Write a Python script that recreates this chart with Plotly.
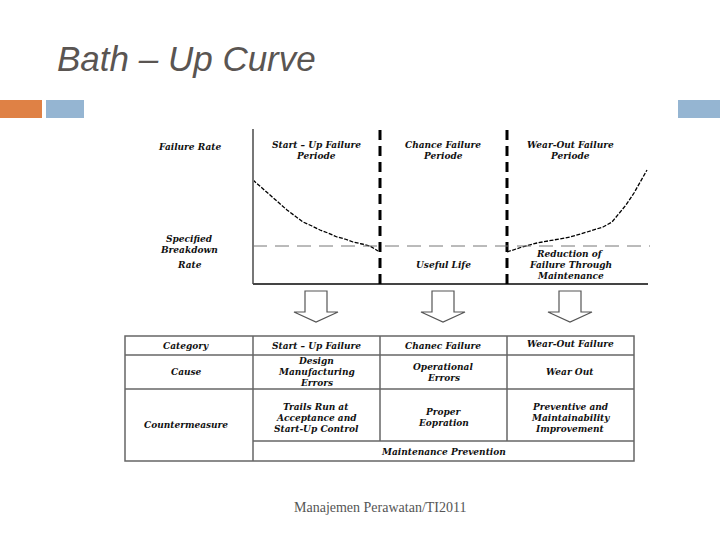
import plotly.graph_objects as go

# ---------------- data (diagram coordinates: x = time position, y = rate position) -------------
early_t = [253, 262, 270, 279, 287, 295, 303, 312, 320, 328, 337, 345, 353, 362, 370, 378]
early_rate = [180, 188, 195, 203, 210, 216, 222, 226, 230, 233, 237, 239, 242, 244, 246, 251]
wear_t = [507, 522, 537, 553, 570, 587, 603, 612, 618, 626, 634, 641, 647]
wear_rate = [252, 247, 243, 240, 237, 232, 227, 222, 215, 205, 193, 181, 170]

period_bounds = [253, 380, 507, 648]
breakdown_level = 246
period_titles = ["Start – Up Failure<br>Periode", "Chance Failure<br>Periode", "Wear-Out Failure<br>Periode"]

table_cols = [125, 253, 380, 507, 634]
table_rows = [336, 355, 389, 441, 461]
row_heads = ["Category", "Cause", "Countermeasure"]
categories = ["Start – Up Failure", "Chanec Failure", "Wear-Out Failure"]
causes = ["Design<br>Manufacturing<br>Errors", "Operational<br>Errors", "Wear Out"]
countermeasures = ["Trails Run at<br>Acceptance and<br>Start-Up Control", "Proper<br>Eopration",
                   "Preventive and<br>Maintainability<br>Improvement"]
bottom_row = "Maintenance Prevention"

col_centers = [316, 443, 570]

fig = go.Figure()

LINE = dict(color="black", width=1.3, dash="4px,1.5px")
fig.add_trace(go.Scatter(x=early_t, y=early_rate, mode="lines", line=LINE, hoverinfo="skip"))
fig.add_trace(go.Scatter(x=wear_t, y=wear_rate, mode="lines", line=LINE, hoverinfo="skip"))

shapes = []
shapes.append(dict(type="rect", x0=0, x1=42, y0=100, y1=118, fillcolor="#DF8145", line_width=0))
shapes.append(dict(type="rect", x0=46, x1=84, y0=100, y1=118, fillcolor="#95B5D2", line_width=0))
shapes.append(dict(type="rect", x0=678, x1=720, y0=100, y1=118, fillcolor="#95B5D2", line_width=0))

shapes.append(dict(type="line", x0=253, x1=253, y0=129, y1=284, line=dict(color="#777777", width=2)))
shapes.append(dict(type="line", x0=253, x1=648, y0=284, y1=284, line=dict(color="#444444", width=2)))
for xb in period_bounds[1:3]:
    shapes.append(dict(type="line", x0=xb, x1=xb, y0=130, y1=284,
                       line=dict(color="black", width=3, dash="10px,6px")))
shapes.append(dict(type="line", x0=253, x1=650, y0=breakdown_level, y1=breakdown_level,
                   line=dict(color="#777777", width=1, dash="14px,8px")))

for cx in col_centers:
    path = (f"M {cx-11},291 L {cx+11},291 L {cx+11},312 L {cx+22},312 L {cx},322 "
            f"L {cx-22},312 L {cx-11},312 Z")
    shapes.append(dict(type="path", path=path, fillcolor="white", line=dict(color="#555555", width=1.2)))

TL = dict(color="#666666", width=1.5)
shapes.append(dict(type="rect", x0=table_cols[0], x1=table_cols[-1], y0=table_rows[0], y1=table_rows[-1],
                   line=TL))
for xc in table_cols[1:-1]:
    y_end = table_rows[3] if xc != table_cols[1] else table_rows[-1]
    shapes.append(dict(type="line", x0=xc, x1=xc, y0=table_rows[0], y1=y_end, line=TL))
shapes.append(dict(type="line", x0=table_cols[0], x1=table_cols[-1], y0=table_rows[1], y1=table_rows[1], line=TL))
shapes.append(dict(type="line", x0=table_cols[0], x1=table_cols[-1], y0=table_rows[2], y1=table_rows[2], line=TL))
shapes.append(dict(type="line", x0=table_cols[1], x1=table_cols[-1], y0=table_rows[3], y1=table_rows[3], line=TL))

ann = []
SF = dict(family="DejaVu Serif, serif", size=9, color="#111111")


def lab(x, y_first, t, step=11):
    for k, line in enumerate(t.split("<br>")):
        ann.append(dict(x=x, y=y_first + k * step, text=f"<b><i>{line}</i></b>", showarrow=False, font=SF,
                        xanchor="center", yanchor="middle", align="center"))


lab(189, 147, "Failure Rate")
for i, t in enumerate(period_titles):
    lab(col_centers[i], 145, t)
lab(189, 239, "Specified<br>Breakdown")
lab(189, 265, "Rate")
lab(443, 265, "Useful Life")
lab(570, 254, "Reduction of<br>Failure Through<br>Maintenance")

lab(186, 346, row_heads[0])
lab(186, 372, row_heads[1])
lab(186, 425, row_heads[2])
cause_y = [361.4, 367, 372]
counter_y = [407, 412, 407]
for i in range(3):
    cx = col_centers[i]
    lab(cx, 346 if i < 2 else 344, categories[i])
    lab(cx, cause_y[i], causes[i], step=10.6)
    lab(cx, counter_y[i], countermeasures[i], step=11)
lab(443, 452, bottom_row)

ann.append(dict(x=55, y=58, text="<i>Bath – Up Curve</i>", showarrow=False, xanchor="left", yanchor="middle",
                font=dict(family="Liberation Sans, Arial, sans-serif", size=35, color="#5A5552")))
ann.append(dict(x=380, y=507, text="Manajemen Perawatan/TI2011", showarrow=False, xanchor="center",
                yanchor="middle", font=dict(family="Liberation Serif, Times New Roman, serif", size=14,
                                            color="#555555")))

fig.update_layout(
    width=720, height=540, margin=dict(l=0, r=0, t=0, b=0),
    paper_bgcolor="white", plot_bgcolor="white", showlegend=False,
    xaxis=dict(range=[0, 720], visible=False, fixedrange=True),
    yaxis=dict(range=[540, 0], visible=False, fixedrange=True),
    shapes=shapes, annotations=ann,
)
fig.write_html("out.html", post_script="document.body.style.margin='0';document.body.style.padding='0';",
               config={"displayModeBar": False})
